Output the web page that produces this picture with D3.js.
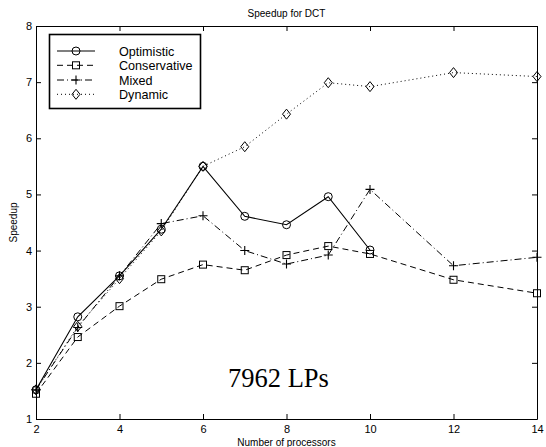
<!DOCTYPE html>
<html><head><meta charset="utf-8">
<script src="https://cdn.jsdelivr.net/npm/d3@7/dist/d3.min.js"></script>
<style>body{margin:0;background:#fff}svg{display:block}</style>
</head><body><div id="chart"></div>
<script>
const procsFull = [2,3,4,5,6,7,8,9,10,12,14];
const procsOpt = [2,3,4,5,6,7,8,9,10];
const optimistic = [1.52,2.82,3.55,4.38,5.5,4.61,4.46,4.96,4.01];
const conservative = [1.45,2.46,3.01,3.49,3.75,3.65,3.92,4.08,3.94,3.48,3.24];
const mixed = [1.52,2.63,3.55,4.48,4.62,4.0,3.76,3.92,5.09,3.73,3.88];
const dynamic = [1.52,2.65,3.5,4.35,5.5,5.85,6.43,6.99,6.92,7.17,7.10];
const xTicks = [2,4,6,8,10,12,14];
const yTicks = [1,2,3,4,5,6,7,8];
const seriesNames = ["Optimistic","Conservative","Mixed","Dynamic"];

const W=546,H=447;
const m={l:36,r:9,t:26,b:28};
const svg=d3.select("#chart").append("svg").attr("width",W).attr("height",H);
const x=d3.scaleLinear().domain([2,14]).range([m.l,W-m.r]);
const y=d3.scaleLinear().domain([1,8]).range([H-m.b,m.t]);
const font="Liberation Sans, Arial, Helvetica, sans-serif";

const series=[
 {name:seriesNames[0],xs:procsOpt,ys:optimistic,dash:null,marker:"circle",sw:1.1},
 {name:seriesNames[1],xs:procsFull,ys:conservative,dash:"6,4",marker:"square",sw:1},
 {name:seriesNames[2],xs:procsFull,ys:mixed,dash:"7,3,1,3",marker:"plus",sw:1},
 {name:seriesNames[3],xs:procsFull,ys:dynamic,dash:"1,3",marker:"diamond",sw:1}
];

function drawMarker(g,type,cx,cy){
  if(type==="circle") g.append("circle").attr("cx",cx).attr("cy",cy).attr("r",4).attr("fill","none").attr("stroke","#000").attr("stroke-width",1);
  else if(type==="square") g.append("rect").attr("x",cx-3.5).attr("y",cy-3.5).attr("width",7).attr("height",7).attr("fill","none").attr("stroke","#000").attr("stroke-width",1);
  else if(type==="plus") g.append("path").attr("d",`M${cx-4.5},${cy}H${cx+4.5}M${cx},${cy-4.5}V${cy+4.5}`).attr("stroke","#000").attr("stroke-width",1.1);
  else if(type==="diamond") g.append("path").attr("d",`M${cx},${cy-5}L${cx+4},${cy}L${cx},${cy+5}L${cx-4},${cy}Z`).attr("fill","none").attr("stroke","#000").attr("stroke-width",1);
}

const fmt=d3.format("d");
const xb=d3.axisBottom(x).tickValues(xTicks).tickFormat(fmt).tickSizeInner(-5).tickSizeOuter(0).tickPadding(6);
const yl=d3.axisLeft(y).tickValues(yTicks).tickFormat(fmt).tickSizeInner(-5).tickSizeOuter(0).tickPadding(4);
const xt=d3.axisTop(x).tickValues(xTicks).tickSizeInner(-5).tickSizeOuter(0).tickFormat("");
const yr=d3.axisRight(y).tickValues(yTicks).tickSizeInner(-5).tickSizeOuter(0).tickFormat("");
function style(g){g.selectAll("path,line").attr("stroke","#000").attr("stroke-width",1);g.selectAll("text").attr("fill","#000").style("font-family",font).style("font-size","11px");}
svg.append("g").attr("transform",`translate(0,${y(1)})`).call(xb).call(style);
svg.append("g").attr("transform",`translate(${x(2)},0)`).call(yl).call(style);
svg.append("g").attr("transform",`translate(0,${y(8)})`).call(xt).call(style);
svg.append("g").attr("transform",`translate(${x(14)},0)`).call(yr).call(style);

const line=d3.line().x(d=>x(d[0])).y(d=>y(d[1]));
series.forEach(s=>{
  const pts=s.xs.map((v,i)=>[v,s.ys[i]]);
  svg.append("path").attr("d",line(pts)).attr("fill","none").attr("stroke","#000").attr("stroke-width",s.sw).attr("stroke-dasharray",s.dash);
  const g=svg.append("g");
  pts.forEach(p=>drawMarker(g,s.marker,x(p[0]),y(p[1])));
});

svg.append("text").attr("x",(x(2)+x(14))/2).attr("y",17).attr("text-anchor","middle").style("font-family",font).style("font-size","10px").text("Speedup for DCT");
svg.append("text").attr("x",(x(2)+x(14))/2).attr("y",446).attr("text-anchor","middle").style("font-family",font).style("font-size","10px").text("Number of processors");
svg.append("text").attr("transform",`translate(17,${(y(1)+y(8))/2}) rotate(-90)`).attr("text-anchor","middle").style("font-family",font).style("font-size","10px").text("Speedup");
svg.append("text").attr("x",228).attr("y",387).style("font-family","Liberation Serif, Times New Roman, serif").style("font-size","26.5px").text("7962 LPs");

const lg=svg.append("g");
lg.append("rect").attr("x",49.5).attr("y",34.5).attr("width",151).attr("height",74).attr("fill","#fff").attr("stroke","#000").attr("stroke-width",1.6);
const rowsY=[51,65.3,80,94.3];
series.forEach((s,i)=>{
  const yy=rowsY[i];
  lg.append("path").attr("d",`M57,${yy}H95`).attr("stroke","#000").attr("stroke-width",s.sw).attr("stroke-dasharray",s.dash).attr("fill","none");
  drawMarker(lg,s.marker,76,yy);
  lg.append("text").attr("x",119).attr("y",yy+4.5).style("font-family",font).style("font-size","12.6px").text(s.name);
});
</script></body></html>
